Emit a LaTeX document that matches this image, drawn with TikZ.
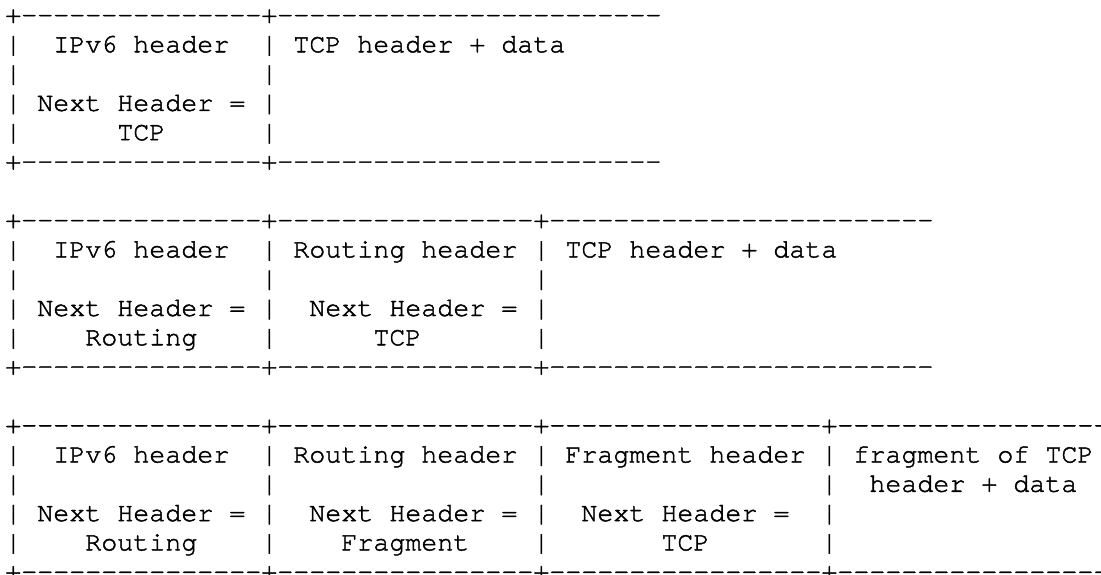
\documentclass[tikz,border=0pt]{standalone}
\usepackage{fontspec}
\setmonofont{texgyrecursor-regular.otf}[FakeBold=1.6]
\tikzset{asc/.style={anchor=base west, inner sep=0pt, outer sep=0pt, text=black,
  font=\ttfamily\fontsize{26.67pt}{29.3pt}\selectfont}}
\begin{document}
\begin{tikzpicture}
\useasboundingbox (0pt,0pt) rectangle (1101pt,-574pt);
\fill[white] (0pt,0pt) rectangle (1101pt,-574pt);
% block 1
\node[asc] (r0)  at (5.3pt,-23pt)    {+---------------+------------------------};
\node[asc] (r1)  at (5.3pt,-52.3pt)  {|~~IPv6~header~~|~TCP~header~+~data};
\node[asc] (r2)  at (5.3pt,-81.6pt)  {|~~~~~~~~~~~~~~~|};
\node[asc] (r3)  at (5.3pt,-110.9pt) {|~Next~Header~=~|};
\node[asc] (r4)  at (5.3pt,-140.2pt) {|~~~~~~TCP~~~~~~|};
\node[asc] (r5)  at (5.3pt,-169.5pt) {+---------------+------------------------};
% block 2
\node[asc] (r7)  at (5.3pt,-228.1pt) {+---------------+----------------+------------------------};
\node[asc] (r8)  at (5.3pt,-257.4pt) {|~~IPv6~header~~|~Routing~header~|~TCP~header~+~data};
\node[asc] (r9)  at (5.3pt,-286.7pt) {|~~~~~~~~~~~~~~~|~~~~~~~~~~~~~~~~|};
\node[asc] (r10) at (5.3pt,-316pt)   {|~Next~Header~=~|~~Next~Header~=~|};
\node[asc] (r11) at (5.3pt,-345.3pt) {|~~~~Routing~~~~|~~~~~~TCP~~~~~~~|};
\node[asc] (r12) at (5.3pt,-374.6pt) {+---------------+----------------+------------------------};
% block 3
\node[asc] (r14) at (5.3pt,-433.2pt) {+---------------+----------------+-----------------+-----------------};
\node[asc] (r15) at (5.3pt,-462.5pt) {|~~IPv6~header~~|~Routing~header~|~Fragment~header~|~fragment~of~TCP};
\node[asc] (r16) at (5.3pt,-491.8pt) {|~~~~~~~~~~~~~~~|~~~~~~~~~~~~~~~~|~~~~~~~~~~~~~~~~~|~~header~+~data};
\node[asc] (r17) at (5.3pt,-521.1pt) {|~Next~Header~=~|~~Next~Header~=~|~~Next~Header~=~~|};
\node[asc] (r18) at (5.3pt,-550.4pt) {|~~~~Routing~~~~|~~~~Fragment~~~~|~~~~~~~TCP~~~~~~~|};
\node[asc] (r19) at (5.3pt,-579.7pt) {+---------------+----------------+-----------------+-----------------};
\end{tikzpicture}
\end{document}
